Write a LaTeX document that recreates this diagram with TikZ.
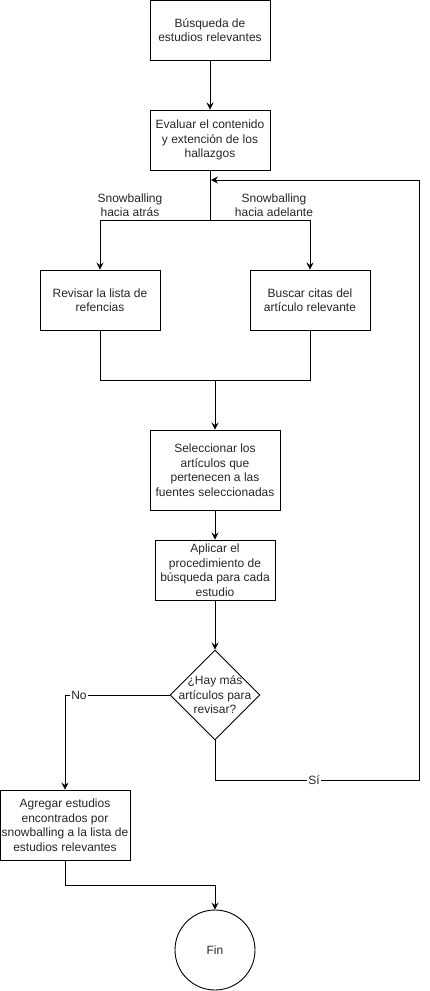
\documentclass[tikz,border=0pt]{standalone}
\usepackage{fontspec}
\setmainfont{Liberation Sans}
\usetikzlibrary{arrows.meta,shapes.geometric}
\begin{document}
\begin{tikzpicture}[x=1pt,y=-1pt,
  every node/.style={font=\fontsize{12}{14.5}\selectfont, align=center, text=black!85},
  proc/.style={draw=black, line width=0.9pt, minimum width=120pt, minimum height=60pt, inner sep=0pt},
  decision/.style={draw=black, line width=0.9pt, diamond, minimum width=90pt, minimum height=90pt, inner sep=0pt},
  endnode/.style={draw=black, line width=0.9pt, circle, minimum size=80pt, inner sep=0pt},
  conn/.style={line width=0.9pt, draw=black},
  arr/.style={conn, -{Stealth[length=7pt,width=7pt,inset=2.5pt]}},
  edgelabel/.style={fill=white, inner sep=1pt}
]
\useasboundingbox (0,0) rectangle (429,991);

% process steps
\node[proc] (busq) at (210,30) {Búsqueda de\\estudios relevantes};
\node[proc] (eval) at (210,140) {Evaluar el contenido\\y extención de los\\hallazgos};
\node[proc] (refs) at (100,300) {Revisar la lista de\\refencias};
\node[proc] (citas) at (310,300) {Buscar citas del\\artículo relevante};
\node[proc, minimum width=130pt, minimum height=80pt] (selec) at (215,470) {Seleccionar los\\artículos que\\pertenecen a las\\fuentes seleccionadas};
\node[proc] (aplic) at (215,570) {Aplicar el\\procedimiento de\\búsqueda para cada\\estudio};
\node[decision] (dec) at (215,695) {};
\node (dectext) at (dec) {¿Hay más\\artículos para\\revisar?};
\node[proc, minimum width=130pt, minimum height=70pt] (agreg) at (65,825) {Agregar estudios\\encontrados por\\snowballing a la lista de\\estudios relevantes};
\node[endnode] (fin) at (215,950) {Fin};

% junction points
\coordinate (split) at (210,220);
\coordinate (merge) at (215,380);
\coordinate (noturn) at (65,695);
\coordinate (sibottom) at (215,780);
\coordinate (siright) at (419,780);
\coordinate (sitop) at (419,180);
\coordinate (back) at (211,180);
\coordinate (toend) at (65,885);

% connectors
\draw[arr] (busq.south) -- (eval.north);
\draw[conn] (eval.south) -- (split);
\draw[arr] (split) -| (refs.north);
\draw[arr] (split) -| (citas.north);
\node at (130,205) {Snowballing\\hacia atrás};
\node at (274,205) {Snowballing\\hacia adelante};

\draw[conn] (refs.south) |- (merge);
\draw[conn] (citas.south) |- (merge);
\draw[arr] (merge) -- (selec.north);
\draw[arr] (selec.south) -- (aplic.north);
\draw[arr] (aplic.south) -- (dec.north);

\draw[arr] (dec.west) -- (noturn) -- (agreg.north);
\node[edgelabel] (nolabel) at (79,695) {No};

\draw[arr] (dec.south) -- (sibottom) -- (siright) -- (sitop) -- (back);
\node[edgelabel] (silabel) at (314,780) {Sí};

\draw[arr] (agreg.south) -- (toend) -| (fin.north);
\end{tikzpicture}
\end{document}
